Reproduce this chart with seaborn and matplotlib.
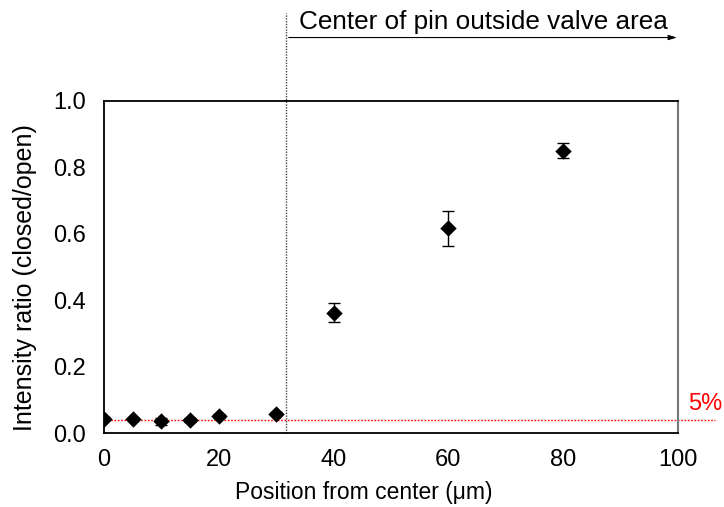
import matplotlib
matplotlib.use("Agg")
import matplotlib.pyplot as plt
import seaborn as sns
import pandas as pd

position = [0, 5, 10, 15, 20, 30, 40, 60, 80]
ratio = [0.044, 0.043, 0.036, 0.040, 0.052, 0.059, 0.363, 0.617, 0.851]
err = [0.004, 0.004, 0.010, 0.005, 0.005, 0.005, 0.029, 0.053, 0.023]
threshold = 0.041
boundary = 31.7
x_ticks = [0, 20, 40, 60, 80, 100]
y_ticks = [0.0, 0.2, 0.4, 0.6, 0.8, 1.0]

sns.set_style("white")
plt.rcParams['font.family'] = ['Liberation Sans', 'DejaVu Sans']
plt.rcParams['text.color'] = 'black'
plt.rcParams['axes.labelcolor'] = 'black'

df = pd.DataFrame({"pos": position, "ratio": ratio, "err": err})

fig = plt.figure(figsize=(7.24, 5.07), dpi=100)
ax = fig.add_axes([0.1436, 0.1454, 0.7929, 0.6554])

ax.errorbar(df["pos"], df["ratio"], yerr=df["err"], fmt="none",
            ecolor="black", elinewidth=1, capsize=4, capthick=1, zorder=2)
sns.scatterplot(data=df, x="pos", y="ratio", marker="D", s=70, color="black",
                edgecolor="black", linewidth=0, ax=ax, zorder=3)

ax.set_xlim(0, 100)
ax.set_ylim(0, 1.0)
ax.set_xticks(x_ticks)
ax.set_yticks(y_ticks)
ax.set_xticklabels([str(t) for t in x_ticks])
ax.set_yticklabels([f"{t:.1f}" for t in y_ticks])
ax.tick_params(direction="in", length=5, width=1, colors="#555555",
               labelcolor="black", labelsize=17)
ax.tick_params(axis="y", pad=13)
ax.tick_params(axis="x", pad=11)

for side in ["left", "bottom", "top"]:
    ax.spines[side].set_color("black")
    ax.spines[side].set_linewidth(1.3)
ax.spines["right"].set_color("#777777")
ax.spines["right"].set_linewidth(1.5)

ax.set_xlabel("Position from center (μm)", fontsize=16.5, color="black")
ax.xaxis.label.set_va("center")
ax.xaxis.set_label_coords(0.453, -0.179)
ax.set_ylabel("Intensity ratio (closed/open)", fontsize=18, color="black")
ax.yaxis.label.set_va("center")
ax.yaxis.set_label_coords(-0.1376, 0.47)

# 5% threshold line, extending beyond the axes
ax.plot([0, 106.5], [threshold, threshold], color="red", linestyle=(0, (1.2, 1.2)),
        linewidth=1, clip_on=False, zorder=1)
ax.text(107.8, threshold + 0.013, "5%", color="red", fontsize=17,
        ha="right", va="bottom")

# boundary vertical line extending above the axes
ax.plot([boundary, boundary], [0, 1.265], color="#444444",
        linestyle=(0, (1, 1)), linewidth=1, clip_on=False, zorder=1)
ax.annotate("", xy=(100.3, 1.191), xytext=(boundary, 1.191),
            xycoords="data", textcoords="data",
            arrowprops=dict(arrowstyle="-|>,head_length=0.5,head_width=0.15",
                            color="black", lw=0.8),
            annotation_clip=False)
ax.text(boundary + 2.3, 1.203, "Center of pin outside valve area",
        fontsize=18.8, ha="left", va="bottom", color="black")

ax.set_facecolor("white")
fig.savefig("out.png", dpi=100, facecolor="white")
